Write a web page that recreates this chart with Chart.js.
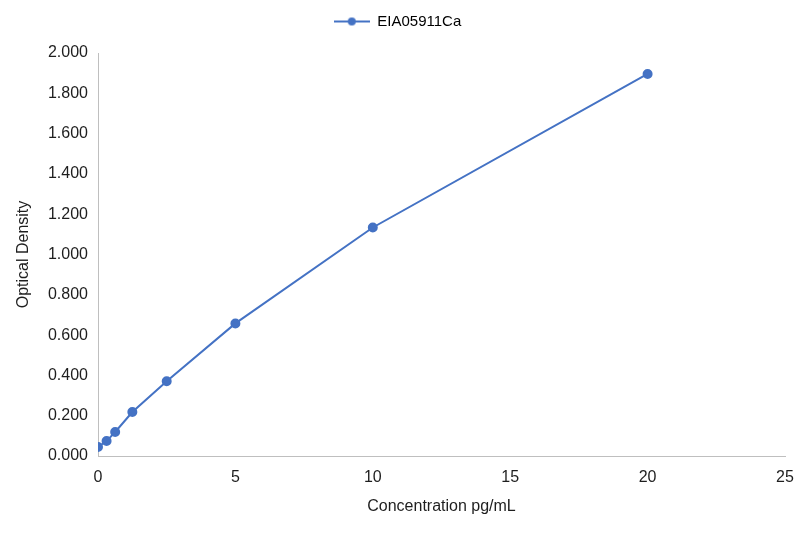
<!DOCTYPE html>
<html lang="en">
<head>
  <meta charset="UTF-8">
  <title>EIA05911Ca standard curve</title>
  <script src="https://cdn.jsdelivr.net/npm/chart.js"></script>
  <style>
    body { margin: 0; background: #fff; }
    #wrap { position: relative; width: 801px; height: 533px; }
  </style>
</head>
<body>
  <div id="wrap"><canvas id="curve"></canvas></div>
  <script>
    const seriesName = 'EIA05911Ca';
    const concentrations = [0, 0.3125, 0.625, 1.25, 2.5, 5, 10, 20];
    const densities = [0.045, 0.074, 0.119, 0.218, 0.371, 0.658, 1.134, 1.896];
    const xTicks = [0, 5, 10, 15, 20, 25];
    const yTicks = [0, 0.2, 0.4, 0.6, 0.8, 1.0, 1.2, 1.4, 1.6, 1.8, 2.0];

    const blue = '#4472C4';
    const ink = '#1e1e1e';
    Chart.defaults.font.family = "'Liberation Sans', Arial, sans-serif";
    Chart.defaults.font.size = 16;
    Chart.defaults.color = ink;

    // legend marker: line with a dot, like the office style
    const marker = document.createElement('canvas');
    marker.width = 36; marker.height = 10;
    const mc = marker.getContext('2d');
    mc.strokeStyle = blue; mc.lineWidth = 2;
    mc.beginPath(); mc.moveTo(0, 5); mc.lineTo(36, 5); mc.stroke();
    mc.fillStyle = blue;
    mc.beginPath(); mc.arc(18, 5, 4, 0, Math.PI * 2); mc.fill();

    const legendGap = {
      id: 'legendGap',
      beforeInit(chart) {
        const fit = chart.legend.fit;
        chart.legend.fit = function () {
          fit.bind(chart.legend)();
          this.height += 14;
        };
      }
    };

    new Chart(document.getElementById('curve'), {
      type: 'scatter',
      data: {
        datasets: [{
          label: seriesName,
          data: concentrations.map((c, i) => ({ x: c, y: densities[i] })),
          showLine: true,
          borderColor: blue,
          backgroundColor: blue,
          borderWidth: 2,
          pointRadius: 4,
          pointHoverRadius: 4
        }]
      },
      options: {
        responsive: true,
        maintainAspectRatio: false,
        animation: false,
        layout: { padding: { left: 10, right: 16, top: 0, bottom: 13 } },
        plugins: {
          tooltip: { enabled: false },
          legend: {
            position: 'top',
            labels: {
              usePointStyle: true,
              pointStyle: marker,
              pointStyleWidth: 36,
              padding: 14,
              color: ink,
              font: { size: 15 },
              generateLabels: chart => [{
                text: seriesName,
                pointStyle: marker,
                fillStyle: blue,
                strokeStyle: blue,
                lineWidth: 0,
                datasetIndex: 0
              }]
            }
          }
        },
        scales: {
          x: {
            type: 'linear',
            min: 0, max: 25,
            afterBuildTicks: s => { s.ticks = xTicks.map(v => ({ value: v })); },
            afterFit: s => { s.height = 64; s.paddingRight = 0; },
            grid: { display: false, drawTicks: false },
            border: { color: '#BFBFBF', width: 1 },
            ticks: { padding: 12 },
            title: { display: true, text: 'Concentration pg/mL', padding: { top: 4 } }
          },
          y: {
            min: 0, max: 2,
            afterBuildTicks: s => { s.ticks = yTicks.map(v => ({ value: v })); },
            afterFit: s => { s.width = 88; },
            grid: { display: false, drawTicks: false },
            border: { color: '#BFBFBF', width: 1 },
            ticks: { padding: 10, callback: v => v.toFixed(3) },
            title: { display: true, text: 'Optical Density', padding: { bottom: 4 } }
          }
        }
      },
      plugins: [legendGap]
    });
  </script>
</body>
</html>
